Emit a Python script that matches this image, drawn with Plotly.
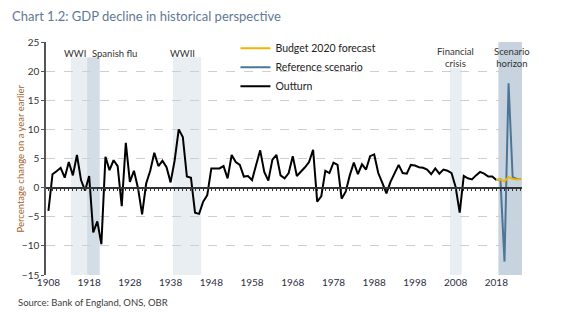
import plotly.graph_objects as go

# ---------------- data ----------------
outturn_years = list(range(1908, 2019))
outturn = [
    -4.0, 2.3, 2.8, 3.4, 1.7, 4.4, 2.1, 5.6, 1.3, -0.5,      # 1908-1917
    2.0, -7.7, -5.8, -9.7, 5.3, 3.0, 4.7, 3.7, -3.2, 7.7,    # 1918-1927
    1.0, 2.9, -0.1, -4.6, 0.7, 2.9, 6.0, 3.7, 4.6, 3.5,      # 1928-1937
    0.9, 4.7, 10.0, 8.7, 1.9, 1.7, -4.3, -4.5, -2.4, -1.3,   # 1938-1947
    3.3, 3.3, 3.3, 3.7, 1.6, 5.6, 4.4, 3.9, 1.9, 2.0,        # 1948-1957
    1.3, 3.9, 6.4, 2.7, 1.2, 4.8, 5.6, 2.1, 1.6, 2.5,        # 1958-1967
    5.4, 2.0, 2.7, 3.5, 4.4, 6.5, -2.4, -1.5, 2.9, 2.5,      # 1968-1977
    4.3, 3.9, -1.9, -0.7, 2.1, 4.3, 2.3, 4.0, 3.1, 5.4,      # 1978-1987
    5.7, 2.5, 0.8, -1.0, 1.0, 2.5, 3.9, 2.5, 2.4, 3.9,       # 1988-1997
    3.8, 3.5, 3.4, 3.1, 2.3, 3.3, 2.4, 3.1, 2.9, 2.5,        # 1998-2007
    0.1, -4.3, 2.0, 1.6, 1.4, 2.1, 2.7, 2.4, 1.9, 1.9,       # 2008-2017
    1.3,                                                      # 2018
]
forecast_years = [2018, 2019, 2020, 2021, 2022, 2023, 2024]
budget_2020 = [1.3, 1.4, 1.1, 1.8, 1.5, 1.4, 1.5]
reference = [1.3, 1.4, -12.7, 17.9, 1.8, 1.5, 1.5]

x_ticks = [1908, 1918, 1928, 1938, 1948, 1958, 1968, 1978, 1988, 1998, 2008, 2018]
y_ticks = [25, 20, 15, 10, 5, 0, -5, -10, -15]

# shaded periods: (start, end, top, colour)
bands = [
    (1913.5, 1917.5, 22.4, "#e9eef2"),   # WWI
    (1917.5, 1920.6, 22.4, "#d3dde6"),   # Spanish flu
    (1938.6, 1945.5, 22.4, "#e9eef2"),   # WWII
    (2006.6, 2009.5, 20.6, "#e9eef2"),   # Financial crisis
    (2018.5, 2024.3, 25.0, "#c7d4df"),   # Scenario horizon
]
band_labels = [
    ("WWI", 1917.6, 23.1, "right", "middle"),
    ("Spanish flu", 1918.2, 23.1, "left", "middle"),
    ("WWII", 1941.0, 23.1, "center", "middle"),
    ("Financial<br>crisis", 2008.05, 24.6, "center", "top"),
    ("Scenario<br>horizon", 2021.8, 24.6, "center", "top"),
]

XR = [1907.4, 2024.3]
YR = [-15, 25]
FONT = "Lato"

fig = go.Figure()

fig.add_trace(go.Scatter(x=outturn_years, y=outturn, mode="lines", name="Outturn",
                         line=dict(color="#000000", width=2)))
fig.add_trace(go.Scatter(x=forecast_years, y=reference, mode="lines", name="Reference scenario",
                         line=dict(color="#4d7596", width=2)))
fig.add_trace(go.Scatter(x=forecast_years, y=budget_2020, mode="lines", name="Budget 2020 forecast",
                         line=dict(color="#f2b600", width=2)))
# helper trace so the zero-line axis is drawn
fig.add_trace(go.Scatter(x=[XR[0]], y=[0], xaxis="x2", mode="lines", showlegend=False,
                         hoverinfo="skip", line=dict(width=0)))

for x0, x1, top, col in bands:
    fig.add_shape(type="rect", x0=x0, x1=x1, y0=YR[0], y1=top, xref="x", yref="y",
                  fillcolor=col, line=dict(width=0), layer="below")

for txt, x, y, xa, ya in band_labels:
    fig.add_annotation(x=x, y=y, text=txt, showarrow=False, xanchor=xa, yanchor=ya,
                       font=dict(family=FONT, size=9.5, color="#333333"))

fig.add_annotation(text="Source: Bank of England, ONS, OBR", xref="paper", yref="paper",
                   x=-0.063, y=-0.12, xanchor="left", yanchor="middle", showarrow=False,
                   font=dict(family=FONT, size=9.5, color="#3c3c3c"))

# y-axis title placed as rotated text
fig.add_annotation(text="Percentage change on a year earlier", xref="paper", yref="paper",
                   x=-0.0546, y=0.5, xanchor="center", yanchor="middle", textangle=-90,
                   showarrow=False, font=dict(family=FONT, size=9.5, color="#a0652a"))

fig.update_layout(
    width=561, height=322,
    margin=dict(l=46, r=39, t=42, b=47, autoexpand=False),
    paper_bgcolor="white", plot_bgcolor="white",
    font=dict(family=FONT, size=10, color="#333333"),
    title=dict(text="Chart 1.2: GDP decline in historical perspective", x=12 / 561, xanchor="left",
               xref="container", y=1 - 16 / 322, yanchor="middle",
               font=dict(family=FONT, size=13, color="#5f7a94", weight="normal")),
    showlegend=True,
    legend=dict(traceorder="reversed", x=0.398, y=1.035, xanchor="left", yanchor="top",
                bgcolor="rgba(0,0,0,0)", font=dict(family=FONT, size=10.5, color="#222222"),
                tracegroupgap=0),
    xaxis=dict(range=XR, tickvals=x_ticks, showgrid=False, zeroline=False, showline=False,
               ticks="", automargin=False, tickfont=dict(family=FONT, size=10, color="#2e2e44")),
    xaxis2=dict(range=XR, overlaying="x", anchor="free", position=0.375, side="bottom",
                showline=True, linecolor="#333333", linewidth=1.5, ticks="outside",
                ticklen=3, tickwidth=1, tickcolor="#333333", tick0=1908, dtick=1,
                showticklabels=False, showgrid=False, zeroline=False, automargin=False),
    yaxis=dict(range=YR, tickvals=y_ticks, showgrid=True, gridcolor="#cfcfcf", gridwidth=1,
               griddash="dash", zeroline=False, showline=True, linecolor="#555555", linewidth=1.5,
               ticks="outside", ticklen=3, tickcolor="#555555", automargin=False,
               tickfont=dict(family=FONT, size=10, color="#333333")),
)

fig.write_html("out.html")
